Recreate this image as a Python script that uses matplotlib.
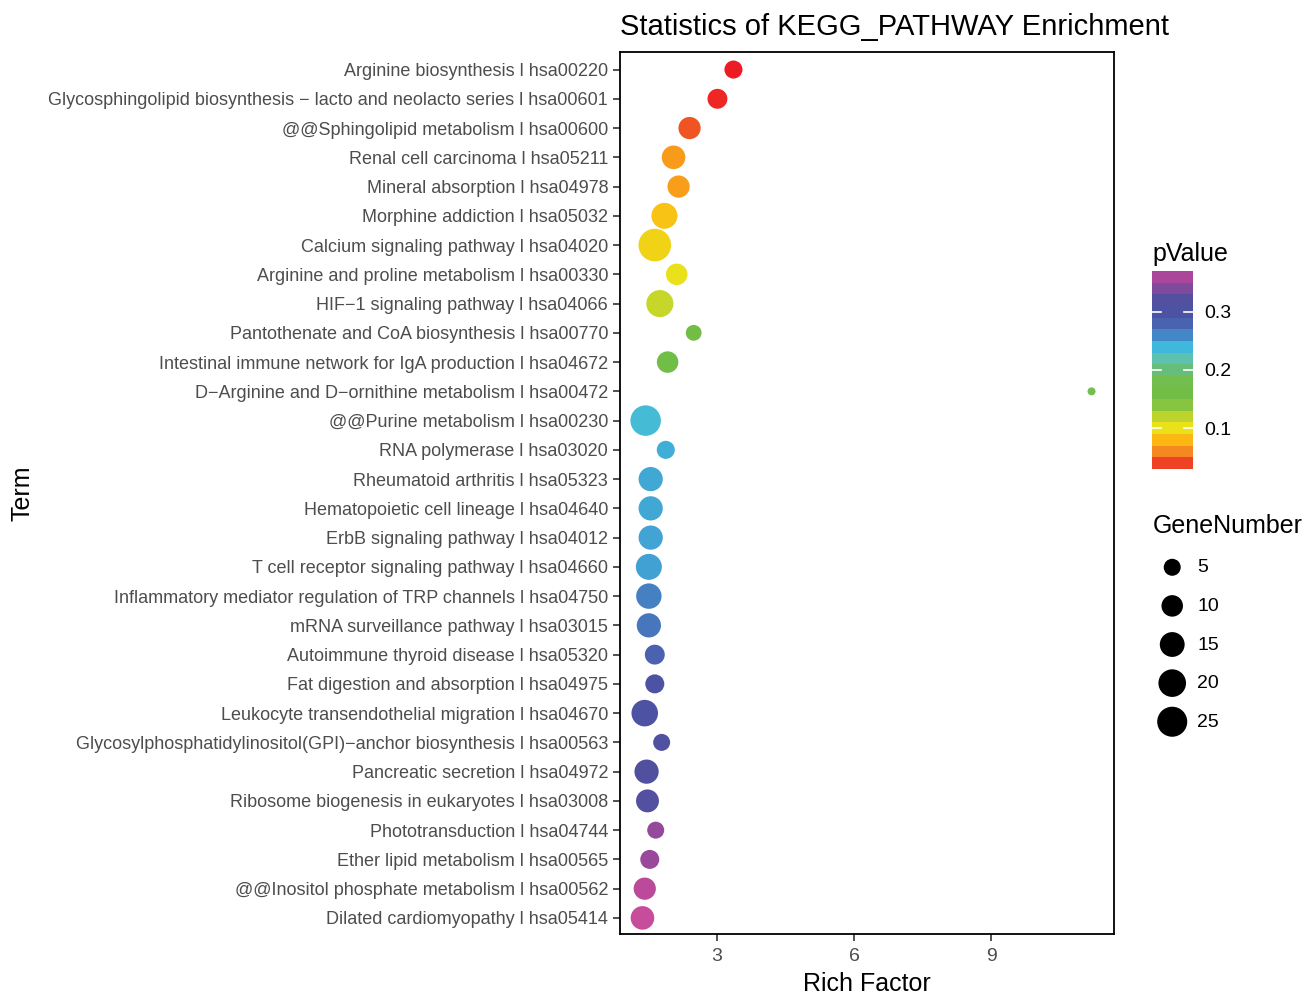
import numpy as np
import matplotlib
matplotlib.use("Agg")
import matplotlib.pyplot as plt
from matplotlib.colors import LinearSegmentedColormap, ListedColormap, Normalize
from matplotlib.cm import ScalarMappable

plt.rcParams['font.family'] = ['Liberation Sans', 'DejaVu Sans']

# KEGG pathway terms, listed top to bottom
terms = [
    "Arginine biosynthesis l hsa00220",
    "Glycosphingolipid biosynthesis \u2212 lacto and neolacto series l hsa00601",
    "@@Sphingolipid metabolism l hsa00600",
    "Renal cell carcinoma l hsa05211",
    "Mineral absorption l hsa04978",
    "Morphine addiction l hsa05032",
    "Calcium signaling pathway l hsa04020",
    "Arginine and proline metabolism l hsa00330",
    "HIF\u22121 signaling pathway l hsa04066",
    "Pantothenate and CoA biosynthesis l hsa00770",
    "Intestinal immune network for IgA production l hsa04672",
    "D\u2212Arginine and D\u2212ornithine metabolism l hsa00472",
    "@@Purine metabolism l hsa00230",
    "RNA polymerase l hsa03020",
    "Rheumatoid arthritis l hsa05323",
    "Hematopoietic cell lineage l hsa04640",
    "ErbB signaling pathway l hsa04012",
    "T cell receptor signaling pathway l hsa04660",
    "Inflammatory mediator regulation of TRP channels l hsa04750",
    "mRNA surveillance pathway l hsa03015",
    "Autoimmune thyroid disease l hsa05320",
    "Fat digestion and absorption l hsa04975",
    "Leukocyte transendothelial migration l hsa04670",
    "Glycosylphosphatidylinositol(GPI)\u2212anchor biosynthesis l hsa00563",
    "Pancreatic secretion l hsa04972",
    "Ribosome biogenesis in eukaryotes l hsa03008",
    "Phototransduction l hsa04744",
    "Ether lipid metabolism l hsa00565",
    "@@Inositol phosphate metabolism l hsa00562",
    "Dilated cardiomyopathy l hsa05414",
]
rich_factor = [3.36, 3.01, 2.40, 2.05, 2.16, 1.85, 1.64, 2.12, 1.75, 2.49,
               1.92, 11.19, 1.44, 1.88, 1.55, 1.55, 1.55, 1.51, 1.51, 1.51,
               1.64, 1.64, 1.42, 1.79, 1.46, 1.48, 1.66, 1.53, 1.42, 1.37]
gene_number = [6, 8, 11, 13, 11, 17, 31, 10, 19, 4,
               10, 1, 26, 6, 14, 14, 14, 17, 16, 14,
               8, 7, 18, 5, 14, 12, 5, 7, 11, 13]
p_value = [0.030, 0.033, 0.045, 0.068, 0.069, 0.085, 0.093, 0.100, 0.115, 0.160,
           0.165, 0.180, 0.236, 0.244, 0.247, 0.247, 0.248, 0.250, 0.264, 0.270,
           0.282, 0.300, 0.305, 0.312, 0.318, 0.320, 0.350, 0.352, 0.365, 0.370]
size_breaks = [5, 10, 15, 20, 25]
p_breaks = [0.1, 0.2, 0.3]

# gradient used for pValue (low -> high), anchored at these p values
grad_p = [0.03] + [0.04 + 0.02 * i for i in range(17)] + [0.37]
grad_colors = ["#ED1C24", "#EF4423", "#F58A20", "#FDB913", "#E9E21A", "#BBD42E",
               "#85C340", "#70BD45", "#72BE4F", "#69BD78", "#5DC2AD", "#40B9DD",
               "#4388C8", "#4A64B0", "#4D53A3", "#51509F", "#7F4A9C", "#A9479A",
               "#C84C9C"]
pmin, pmax = min(p_value), max(p_value)
cmap = LinearSegmentedColormap.from_list(
    "pval", [((p - pmin) / (pmax - pmin), c) for p, c in zip(grad_p, grad_colors)])
norm = Normalize(vmin=pmin, vmax=pmax)

gmin, gmax = min(gene_number), max(gene_number)


def dot_size(n):
    # marker area in pt^2, diameter grows with sqrt of gene count
    d_px = 8 + 4.5 * np.sqrt(np.asarray(n, dtype=float) - gmin)
    return (d_px * 0.72) ** 2


fig = plt.figure(figsize=(13.04, 9.94), dpi=100)
ax = fig.add_axes([620 / 1304, 1 - 934 / 994, 494 / 1304, 882 / 994])

ypos = np.arange(len(terms))[::-1] + 1
ax.scatter(rich_factor, ypos, s=dot_size(gene_number), c=p_value, cmap=cmap,
           norm=norm, edgecolors='none', zorder=3)

ax.set_yticks(ypos)
ax.set_yticklabels(terms)
ax.set_ylim(0.45, len(terms) + 0.6)
span = max(rich_factor) - min(rich_factor)
ax.set_xlim(min(rich_factor) - 0.05 * span, max(rich_factor) + 0.05 * span)
ax.set_xticks([3, 6, 9])
ax.tick_params(axis='both', labelsize=13, colors='#333333', labelcolor='#4D4D4D',
               length=5, width=1.2, direction='out')
ax.tick_params(axis='x', labelsize=14, pad=5)
for sp in ax.spines.values():
    sp.set_linewidth(1.3)
    sp.set_color('black')

ax.set_xlabel("Rich Factor", fontsize=18, labelpad=5)
ax.set_ylabel("Term", fontsize=18, labelpad=10)
ax.set_title("Statistics of KEGG_PATHWAY Enrichment", fontsize=21, loc='left', pad=12)

# pValue colour bar, drawn in 0.02-wide bins
centers = np.arange(pmin + 0.01, pmax, 0.02)
band_cmap = ListedColormap(cmap(norm(centers)))
cax = fig.add_axes([1152 / 1304, 1 - 469 / 994, 41 / 1304, 198 / 994])
sm = ScalarMappable(norm=norm, cmap=band_cmap)
cb = fig.colorbar(sm, cax=cax, ticks=p_breaks)
cb.outline.set_visible(False)
cax.tick_params(length=0, labelsize=14, labelcolor='black', pad=8)
for t in p_breaks:
    cax.plot([0, 0.22], [t, t], color='white', lw=1.2, transform=cax.get_yaxis_transform())
    cax.plot([0.78, 1], [t, t], color='white', lw=1.2, transform=cax.get_yaxis_transform())
fig.text(1152 / 1304, 1 - 254 / 994, "pValue", fontsize=18, va='center', ha='left')

# GeneNumber size legend
handles = [ax.scatter([], [], s=dot_size(b), color='black', edgecolors='none') for b in size_breaks]
leg = fig.legend(handles, [str(b) for b in size_breaks], title="GeneNumber",
                 loc='upper left', bbox_to_anchor=(1145 / 1304, 1 - 506 / 994),
                 frameon=False, fontsize=14, title_fontsize=18, labelspacing=1.08,
                 handletextpad=0.3, alignment='left', borderaxespad=0)

fig.savefig("out.png", dpi=100)
